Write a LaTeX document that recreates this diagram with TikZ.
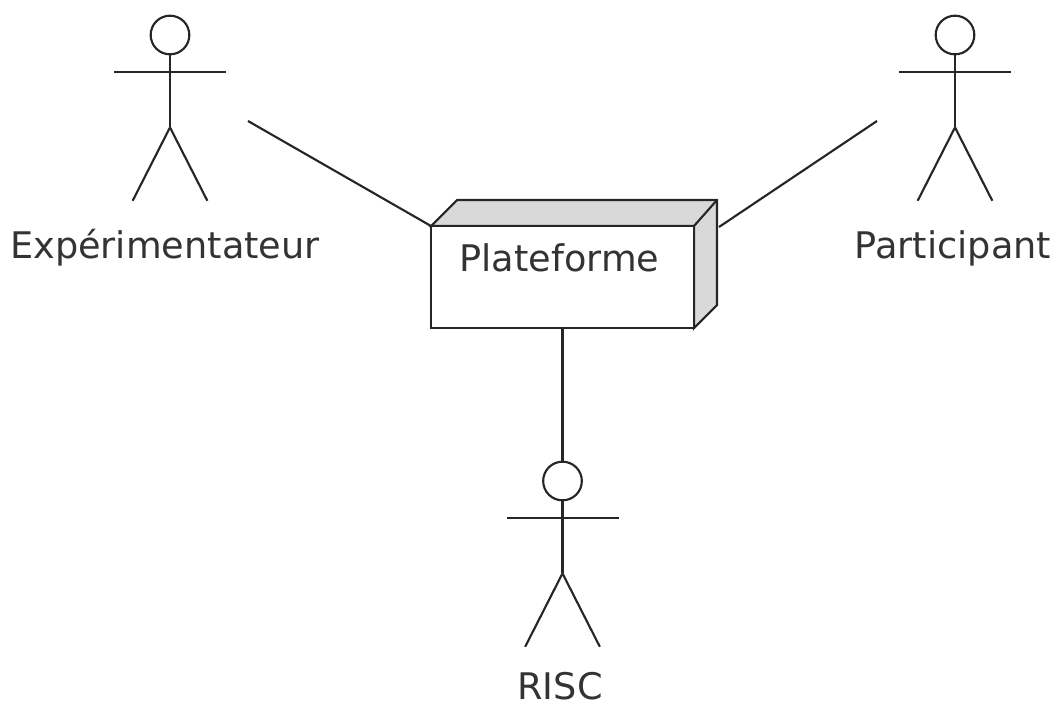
\documentclass[tikz,border=0pt]{standalone}
\usepackage{fontspec}
\setmainfont{DejaVu Sans}
\usetikzlibrary{positioning}
\tikzset{stick/.style={line width=1.6pt,black!85}}
\tikzset{lbl/.style={font=\fontsize{27.5}{32}\selectfont,text=black!80,inner sep=0pt,anchor=base}}
\tikzset{head/.style={circle,draw,stick,fill=white,minimum size=29pt,inner sep=0pt}}
\newcommand{\actor}[1]{%
  \draw[stick] (#1.south) -- ++(0,-54pt) coordinate (#1hip);
  \draw[stick] ([xshift=-42pt,yshift=-12.5pt]#1.south) -- ([xshift=42pt,yshift=-12.5pt]#1.south);
  \draw[stick] (#1hip) -- ++(-28pt,-55pt);
  \draw[stick] (#1hip) -- ++(28pt,-55pt);
}
\begin{document}
\begin{tikzpicture}[x=0.75pt,y=-0.75pt]
  \useasboundingbox (0,0) rectangle (1054,704);
  \node[head](exp) at (170,35){};
  \node[head](par) at (955,35){};
  \node[head](risc) at (562.5,481){};
  \actor{exp}
  \actor{par}
  \actor{risc}
  \node[lbl](explbl) at (165,258){Expérimentateur};
  \node[lbl](parlbl) at (953,258){Participant};
  \node[lbl](risclbl) at (560,699){RISC};
  % platform box
  \coordinate(nw) at (431,226);
  \coordinate(ne) at (694,226);
  \coordinate(se) at (694,328);
  \coordinate(bnw) at (457,200);
  \coordinate(bne) at (717,200);
  \coordinate(bse) at (717,305);
  \coordinate(expend) at (248,121);
  \coordinate(parend) at (877,121);
  \coordinate(parstart) at (719,227);
  \draw[stick,fill=black!15] (nw) -- (bnw) -- (bne) -- (bse) -- (se) -- (ne) -- cycle;
  \draw[stick] (ne) -- (bne);
  \node[draw,stick,fill=white,minimum width=197.25pt,minimum height=76.5pt,inner sep=0pt](plat) at (562.5,277){};
  \node[lbl](platlbl) at (559.5,271){Plateforme};
  \draw[stick] (expend) -- (nw);
  \draw[stick] (parend) -- (parstart);
  \draw[stick] (plat.south) -- (risc.north);
\end{tikzpicture}
\end{document}
